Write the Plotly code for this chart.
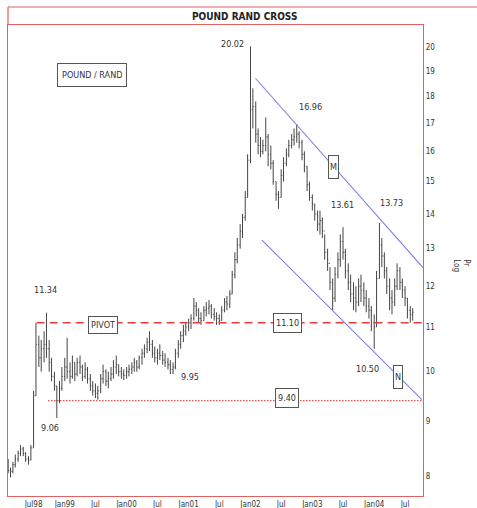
import numpy as np
import pandas as pd
import plotly.graph_objects as go

# ---------------- data ----------------
# semi-monthly bars, Feb 1998 .. Aug 2004
start_date = "1998-02-01"
n_bars = 158

high_vals = [
    # 1998 (Feb..Dec)
    8.30, 8.15, 8.25, 8.38, 8.45, 8.55, 8.52, 8.42, 8.35, 8.55, 9.60, 11.10, 10.80, 10.70, 10.90, 11.34, 10.70, 10.30, 10.00, 9.70, 9.80, 10.10,
    # 1999
    10.30, 10.75, 10.20, 10.35, 10.20, 10.30, 10.35, 10.15, 10.20, 10.10, 9.95, 9.80, 9.75, 9.70, 9.95, 10.15, 10.05, 10.00, 10.10, 10.25, 10.35, 10.15, 10.10, 10.05,
    # 2000
    10.10, 10.15, 10.20, 10.30, 10.25, 10.35, 10.50, 10.60, 10.75, 10.90, 10.70, 10.55, 10.50, 10.60, 10.45, 10.40, 10.30, 10.25, 10.20, 10.50, 10.70, 10.90, 11.05, 11.10,
    # 2001
    11.20, 11.30, 11.70, 11.60, 11.45, 11.35, 11.50, 11.60, 11.65, 11.55, 11.45, 11.35, 11.30, 11.50, 11.70, 11.75, 11.90, 12.40, 12.90, 13.30, 13.70, 14.00, 14.70, 15.90,
    # 2002
    20.02, 18.30, 17.80, 16.80, 16.50, 16.40, 17.20, 16.60, 16.20, 15.70, 15.00, 14.70, 15.40, 15.80, 16.10, 16.40, 16.60, 16.80, 16.96, 16.70, 16.40, 16.00, 15.50, 15.00,
    # 2003
    14.60, 14.30, 14.10, 14.10, 13.90, 13.40, 13.00, 12.50, 12.20, 12.50, 12.90, 13.40, 13.61, 13.00, 12.60, 12.30, 12.10, 12.00, 12.20, 12.30, 12.10, 11.90, 11.70, 11.50,
    # 2004
    11.30, 12.40, 13.73, 13.30, 12.90, 12.50, 12.20, 11.90, 12.20, 12.60, 12.50, 12.20, 12.00, 11.70, 11.50, 11.45,
]
low_vals = [
    8.05, 7.98, 8.05, 8.15, 8.25, 8.35, 8.35, 8.25, 8.20, 8.28, 8.50, 9.50, 10.10, 10.00, 10.20, 10.30, 10.00, 9.80, 9.60, 9.06, 9.35, 9.60,
    9.80, 9.85, 9.75, 9.85, 9.80, 9.90, 9.95, 9.80, 9.85, 9.75, 9.60, 9.50, 9.45, 9.42, 9.55, 9.75, 9.70, 9.65, 9.80, 9.85, 9.95, 9.90, 9.85, 9.82,
    9.85, 9.90, 9.95, 10.00, 10.00, 10.05, 10.15, 10.30, 10.40, 10.45, 10.30, 10.20, 10.15, 10.25, 10.15, 10.10, 10.05, 9.95, 9.95, 10.05, 10.30, 10.50, 10.65, 10.80,
    10.90, 10.95, 11.15, 11.25, 11.10, 11.05, 11.15, 11.25, 11.30, 11.20, 11.15, 11.05, 11.05, 11.15, 11.35, 11.40, 11.45, 11.80, 12.20, 12.60, 13.00, 13.30, 13.80, 14.50,
    15.60, 16.80, 16.30, 15.90, 15.80, 15.90, 16.00, 15.50, 15.40, 14.90, 14.40, 14.15, 14.50, 15.00, 15.50, 15.80, 16.10, 16.20, 16.30, 16.10, 15.70, 15.30, 14.70, 14.40,
    14.10, 13.80, 13.50, 13.40, 13.30, 12.70, 12.40, 11.90, 11.40, 11.60, 12.20, 12.50, 12.70, 12.20, 11.90, 11.60, 11.40, 11.35, 11.50, 11.60, 11.50, 11.35, 11.20, 10.90,
    10.50, 11.00, 12.20, 12.50, 12.20, 11.80, 11.40, 11.30, 11.50, 11.90, 11.90, 11.70, 11.50, 11.20, 11.10, 11.15,
]
close_vals = [
    8.10, 8.08, 8.20, 8.30, 8.40, 8.48, 8.40, 8.30, 8.28, 8.50, 9.50, 10.60, 10.30, 10.50, 10.60, 10.50, 10.20, 9.90, 9.70, 9.40, 9.65, 9.90,
    10.10, 10.00, 9.90, 10.20, 9.95, 10.20, 10.10, 9.90, 10.05, 9.85, 9.70, 9.60, 9.55, 9.60, 9.85, 10.00, 9.80, 9.85, 9.95, 10.10, 10.15, 10.00, 9.95, 9.92,
    10.00, 10.05, 10.10, 10.20, 10.10, 10.30, 10.40, 10.50, 10.65, 10.60, 10.40, 10.30, 10.40, 10.35, 10.25, 10.20, 10.15, 10.05, 10.10, 10.40, 10.60, 10.80, 10.90, 11.00,
    11.10, 11.20, 11.50, 11.40, 11.20, 11.15, 11.40, 11.45, 11.50, 11.30, 11.25, 11.20, 11.15, 11.40, 11.60, 11.55, 11.80, 12.30, 12.70, 13.10, 13.50, 13.90, 14.50, 15.70,
    17.50, 17.60, 16.60, 16.20, 16.00, 16.20, 16.50, 15.90, 15.60, 15.00, 14.60, 14.50, 15.20, 15.60, 15.90, 16.20, 16.40, 16.50, 16.60, 16.30, 15.90, 15.50, 14.90, 14.50,
    14.30, 14.00, 13.70, 13.80, 13.50, 12.90, 12.60, 12.10, 11.70, 12.30, 12.70, 13.20, 12.90, 12.40, 12.10, 11.80, 11.70, 11.60, 12.00, 11.90, 11.70, 11.50, 11.40, 11.10,
    11.00, 12.20, 13.10, 12.80, 12.40, 12.00, 11.70, 11.60, 12.00, 12.40, 12.10, 11.90, 11.70, 11.40, 11.30, 11.35,
]
first_open = 8.25

# horizontal levels
pivot_level = 11.10
pivot_start = "1998-07-19"
support_level = 9.40
support_start = "1998-09-24"

# channel lines (date, value)
upper_channel_x = ["2002-01-30", "2004-10-16"]
upper_channel_y = [18.70, 12.48]
lower_channel_x = ["2002-03-10", "2004-10-08"]
lower_channel_y = [13.24, 9.42]

# axes
x_range = ["1998-01-31", "2004-10-15"]
x_tick_vals = ["1998-07-01", "1999-01-01", "1999-07-01", "2000-01-01", "2000-07-01",
               "2001-01-01", "2001-07-01", "2002-01-01", "2002-07-01", "2003-01-01",
               "2003-07-01", "2004-01-01", "2004-07-01"]
x_tick_text = ["Jul98", "Jan99", "Jul", "Jan00", "Jul", "Jan01", "Jul", "Jan02",
               "Jul", "Jan03", "Jul", "Jan04", "Jul"]
y_tick_vals = [8, 9, 10, 11, 12, 13, 14, 15, 16, 17, 18, 19, 20]
y_tick_text = [str(v) for v in y_tick_vals]
y_range_vals = [7.67, 20.95]

# value labels (text, date, value)
value_labels = [
    ("20.02", "2001-09-15", 20.10),
    ("16.96", "2002-12-20", 17.60),
    ("13.61", "2003-06-25", 14.27),
    ("13.73", "2004-04-15", 14.33),
    ("11.34", "1998-09-08", 11.91),
    ("9.06", "1998-10-08", 8.87),
    ("9.95", "2001-01-10", 9.89),
    ("10.50", "2003-11-20", 10.06),
]
# boxed labels (text, date, value, horizontal pad, vertical pad)
boxed_labels = [
    ("PIVOT", "1999-08-16", 11.05, 2, 2),
    ("11.10", "2002-08-07", 11.10, 2, 3),
    ("9.40", "2002-08-07", 9.45, 2, 3),
    ("M", "2003-05-05", 15.47, 1, 5),
    ("N", "2004-05-22", 9.89, 1, 5),
    ("POUND / RAND", "1999-06-13", 18.83, 4, 5),
]

# ---------------- figure ----------------
dates = pd.date_range(start_date, periods=n_bars, freq="SMS")
open_vals = [first_open] + close_vals[:-1]

FONT = "DejaVu Sans Condensed, Liberation Sans Narrow, Arial Narrow, Liberation Sans, Arial, sans-serif"
FRAME = "rgb(226,96,96)"
TXT = "#333333"

fig = go.Figure()
fig.add_trace(go.Ohlc(
    x=dates, open=open_vals, high=high_vals, low=low_vals, close=close_vals,
    increasing=dict(line=dict(color="#454545", width=1)),
    decreasing=dict(line=dict(color="#454545", width=1)),
    tickwidth=0.35, showlegend=False, hoverinfo="skip",
))

fig.add_trace(go.Scatter(
    x=[pivot_start, x_range[1]], y=[pivot_level, pivot_level], mode="lines",
    line=dict(color="rgb(232,60,60)", width=1.6, dash="8px,5px"),
    showlegend=False, hoverinfo="skip"))
fig.add_trace(go.Scatter(
    x=[support_start, x_range[1]], y=[support_level, support_level], mode="lines",
    line=dict(color="rgb(232,80,80)", width=1.3, dash="1.5px,1.5px"),
    showlegend=False, hoverinfo="skip"))
fig.add_trace(go.Scatter(
    x=upper_channel_x, y=upper_channel_y, mode="lines",
    line=dict(color="rgb(128,128,228)", width=1.1),
    showlegend=False, hoverinfo="skip"))
fig.add_trace(go.Scatter(
    x=lower_channel_x, y=lower_channel_y, mode="lines",
    line=dict(color="rgb(128,128,228)", width=1.1),
    showlegend=False, hoverinfo="skip"))

annotations = []
for txt, d, v in value_labels:
    annotations.append(dict(
        x=d, y=np.log10(v), xref="x", yref="y", text=txt, showarrow=False,
        xanchor="center", yanchor="middle",
        font=dict(family=FONT, size=9, color=TXT)))
for txt, d, v, px, py in boxed_labels:
    annotations.append(dict(
        x=d, y=np.log10(v), xref="x", yref="y", text=txt, showarrow=False,
        xanchor="center", yanchor="middle",
        font=dict(family=FONT, size=9, color=TXT), borderpad=px,
        height=12 + 2 * py - 2 * px,
        bordercolor="#555555", borderwidth=1, bgcolor="white"))

# title
annotations.append(dict(
    x=0.569, y=1.019, xref="paper", yref="paper", text="<b>POUND RAND CROSS</b>",
    xanchor="center", yanchor="middle",
    showarrow=False, font=dict(family=FONT, size=10, color="#222222")))
# axis caption
annotations.append(dict(
    x=1.094, y=0.49, xref="paper", yref="paper", text="Pr<br>Log", textangle=90,
    xanchor="center", yanchor="middle",
    showarrow=False, align="left", font=dict(family=FONT, size=8, color="#333333")))

shapes = [
    dict(type="line", xref="paper", yref="paper", x0=0, x1=1.14, y0=1.0382, y1=1.0382,
         line=dict(color=FRAME, width=1.2)),
    dict(type="line", xref="paper", yref="paper", x0=0, x1=0, y0=1.0, y1=1.0382,
         line=dict(color=FRAME, width=1.2)),
]

fig.update_layout(
    width=477, height=508,
    margin=dict(l=8, r=54, t=25, b=12),
    paper_bgcolor="white", plot_bgcolor="white",
    showlegend=False,
    annotations=annotations, shapes=shapes,
    xaxis=dict(
        type="date", range=x_range, rangeslider=dict(visible=False),
        tickvals=x_tick_vals, ticktext=x_tick_text, ticks="",
        tickfont=dict(family=FONT, size=8, color=TXT),
        showgrid=False, zeroline=False,
        showline=True, mirror=True, linecolor=FRAME, linewidth=1.2,
        automargin=False,
    ),
    yaxis=dict(
        type="log", range=[np.log10(y_range_vals[0]), np.log10(y_range_vals[1])],
        side="right", tickvals=y_tick_vals, ticktext=y_tick_text, ticks="",
        tickfont=dict(family=FONT, size=8, color=TXT),
        showgrid=False, zeroline=False,
        showline=True, mirror=True, linecolor=FRAME, linewidth=1.2,
        automargin=False,
    ),
)

fig.write_html(
    "out.html",
    config={"displayModeBar": False},
    post_script="document.body.style.margin='0px';document.body.style.overflow='hidden';",
)
